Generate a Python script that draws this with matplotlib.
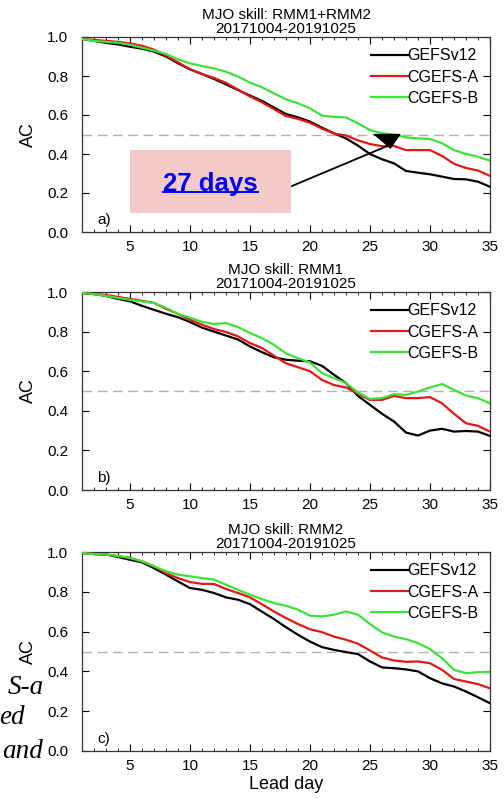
import matplotlib
matplotlib.use('Agg')
import matplotlib.pyplot as plt
from matplotlib.patches import Rectangle
from matplotlib.lines import Line2D
from matplotlib.ticker import MultipleLocator
import numpy as np

plt.rcParams['font.family'] = ['Liberation Sans', 'DejaVu Sans']

days = np.arange(1, 36)

# panel a) RMM1+RMM2
a_gefs = [0.99, 0.98, 0.97, 0.962, 0.95, 0.94, 0.925, 0.90, 0.865, 0.834, 0.81, 0.785,
          0.757, 0.728, 0.70, 0.672, 0.638, 0.605, 0.588, 0.566, 0.535, 0.506, 0.48,
          0.443, 0.40, 0.373, 0.352, 0.313, 0.304, 0.296, 0.284, 0.272, 0.27, 0.258, 0.232]
a_cgA = [0.99, 0.985, 0.98, 0.975, 0.967, 0.955, 0.935, 0.905, 0.87, 0.835, 0.81, 0.79,
         0.765, 0.73, 0.695, 0.665, 0.63, 0.595, 0.58, 0.56, 0.53, 0.505, 0.495,
         0.47, 0.451, 0.44, 0.441, 0.42, 0.42, 0.42, 0.39, 0.35, 0.328, 0.315, 0.288]
a_cgB = [0.99, 0.98, 0.975, 0.97, 0.96, 0.945, 0.93, 0.913, 0.885, 0.865, 0.851, 0.839,
         0.822, 0.797, 0.766, 0.742, 0.711, 0.68, 0.66, 0.634, 0.597, 0.59, 0.588,
         0.557, 0.523, 0.506, 0.50, 0.485, 0.48, 0.477, 0.455, 0.42, 0.40, 0.386, 0.366]

# panel b) RMM1
b_gefs = [0.995, 0.99, 0.98, 0.965, 0.953, 0.93, 0.91, 0.89, 0.873, 0.848, 0.82, 0.80,
          0.78, 0.76, 0.725, 0.696, 0.67, 0.658, 0.653, 0.65, 0.627, 0.582, 0.54,
          0.475, 0.43, 0.385, 0.346, 0.29, 0.275, 0.30, 0.309, 0.295, 0.298, 0.295, 0.273]
b_cgA = [0.995, 0.99, 0.985, 0.975, 0.965, 0.955, 0.945, 0.915, 0.89, 0.86, 0.835, 0.813,
         0.798, 0.776, 0.742, 0.717, 0.678, 0.64, 0.62, 0.60, 0.556, 0.53, 0.518,
         0.486, 0.455, 0.455, 0.475, 0.464, 0.464, 0.469, 0.438, 0.385, 0.337, 0.324, 0.295]
b_cgB = [0.995, 0.99, 0.98, 0.97, 0.96, 0.952, 0.945, 0.92, 0.89, 0.87, 0.85, 0.838,
         0.843, 0.823, 0.793, 0.767, 0.733, 0.69, 0.666, 0.644, 0.59, 0.565, 0.54,
         0.492, 0.46, 0.464, 0.484, 0.48, 0.497, 0.518, 0.535, 0.506, 0.477, 0.464, 0.438]

# panel c) RMM2
c_gefs = [0.995, 0.99, 0.987, 0.975, 0.961, 0.948, 0.919, 0.886, 0.852, 0.819, 0.81, 0.794,
          0.772, 0.76, 0.738, 0.70, 0.663, 0.622, 0.584, 0.55, 0.522, 0.508, 0.497,
          0.487, 0.45, 0.42, 0.416, 0.41, 0.40, 0.366, 0.34, 0.324, 0.299, 0.27, 0.24]
c_cgA = [0.995, 0.99, 0.987, 0.98, 0.97, 0.953, 0.928, 0.894, 0.869, 0.849, 0.84, 0.839,
         0.814, 0.794, 0.772, 0.737, 0.701, 0.668, 0.638, 0.612, 0.597, 0.575, 0.559,
         0.539, 0.505, 0.47, 0.455, 0.448, 0.45, 0.441, 0.408, 0.362, 0.349, 0.336, 0.315]
c_cgB = [0.995, 0.99, 0.987, 0.98, 0.97, 0.953, 0.928, 0.903, 0.886, 0.878, 0.869, 0.861,
         0.836, 0.81, 0.785, 0.763, 0.743, 0.73, 0.71, 0.68, 0.676, 0.685, 0.701,
         0.685, 0.638, 0.596, 0.575, 0.562, 0.542, 0.512, 0.466, 0.408, 0.391, 0.396, 0.396]

labels = ['GEFSv12', 'CGEFS-A', 'CGEFS-B']
colors = ['black', '#e01818', '#3ee03a']
titles = ['MJO skill: RMM1+RMM2', 'MJO skill: RMM1', 'MJO skill: RMM2']
period = '20171004-20191025'
panel_tags = ['a)', 'b)', 'c)']
panels = [(a_gefs, a_cgA, a_cgB), (b_gefs, b_cgA, b_cgB), (c_gefs, c_cgA, c_cgB)]

W, H = 504, 798
fig = plt.figure(figsize=(W / 100, H / 100), dpi=100)

# axes boxes in pixels: (top, bottom)
boxes = [(37, 232), (292, 490), (552, 751)]
left_px, right_px = 82, 490

axes = []
for i, (top, bot) in enumerate(boxes):
    ax = fig.add_axes([left_px / W, 1 - bot / H, (right_px - left_px) / W, (bot - top) / H])
    axes.append(ax)
    for series, lab, col in zip(panels[i], labels, colors):
        ax.plot(days, series, color=col, lw=1.6, label=lab, zorder=3)
    ax.axhline(0.5, color='#b0b0b0', lw=1.0, ls=(0, (7, 4)), zorder=1)

    ax.set_xlim(1, 35)
    ax.set_ylim(0, 1)
    ax.set_xticks([5, 10, 15, 20, 25, 30, 35])
    ax.xaxis.set_minor_locator(MultipleLocator(1))
    ax.set_yticks([0, 0.2, 0.4, 0.6, 0.8, 1.0])
    ax.set_yticklabels(['0.0', '0.2', '0.4', '0.6', '0.8', '1.0'])
    ax.tick_params(axis='x', which='major', direction='in', top=True, length=5,
                   width=0.8, labelsize=11, pad=6)
    ax.tick_params(axis='x', which='minor', direction='in', top=True, length=2.5, width=0.6)
    ax.tick_params(axis='y', which='major', direction='in', right=True, length=5,
                   width=0.8, labelsize=11, pad=10)
    for sp in ax.spines.values():
        sp.set_linewidth(0.9)
        sp.set_color('#333333')

    ax.set_ylabel('AC', fontsize=13, labelpad=7)
    ax.set_title(titles[i] + '\n' + period, fontsize=11, pad=3, linespacing=0.95)
    ax.text(0.037, 0.06, panel_tags[i], transform=ax.transAxes, fontsize=11, va='center')

    ax.legend(loc='upper right', bbox_to_anchor=(1.0, 1.0), frameon=False, fontsize=11.5,
              handlelength=2.3, handletextpad=0.0, labelspacing=0.4, borderaxespad=0.3)

axes[2].set_xlabel('Lead day', fontsize=13, labelpad=2)

# annotation in panel a
ax = axes[0]
ax.add_patch(Rectangle((5, 0.097), 13.4, 0.323, facecolor='#f4c9c9', edgecolor='none', zorder=2))
t = ax.text(11.7, 0.245, '27 days', color='#0000ee', fontsize=18.5, fontweight='bold',
            ha='center', va='center', zorder=4)
ax.plot([18.5, 26.4], [0.236, 0.44], color='black', lw=1.3, zorder=4)
ax.plot([26.3], [0.465], marker=[(-37, 20), (38, 20), (10, -20)], color='black',
        markersize=19, zorder=5)

fig.canvas.draw()
bb = t.get_window_extent().transformed(fig.transFigure.inverted())
uy = bb.y0 + 0.005
fig.add_artist(Line2D([bb.x0, bb.x1], [uy, uy], color='#0000ee', lw=1.4))

# cut-off text of the surrounding page on the left
for txt, xr, yb in [('S-a', 44, 694), ('ed', 25, 724), ('and', 43, 758)]:
    fig.text(xr / W, 1 - yb / H, txt, ha='right', va='baseline', fontsize=19.5,
             style='italic', family=['Liberation Serif', 'DejaVu Serif'])

fig.savefig('out.png', dpi=100)
